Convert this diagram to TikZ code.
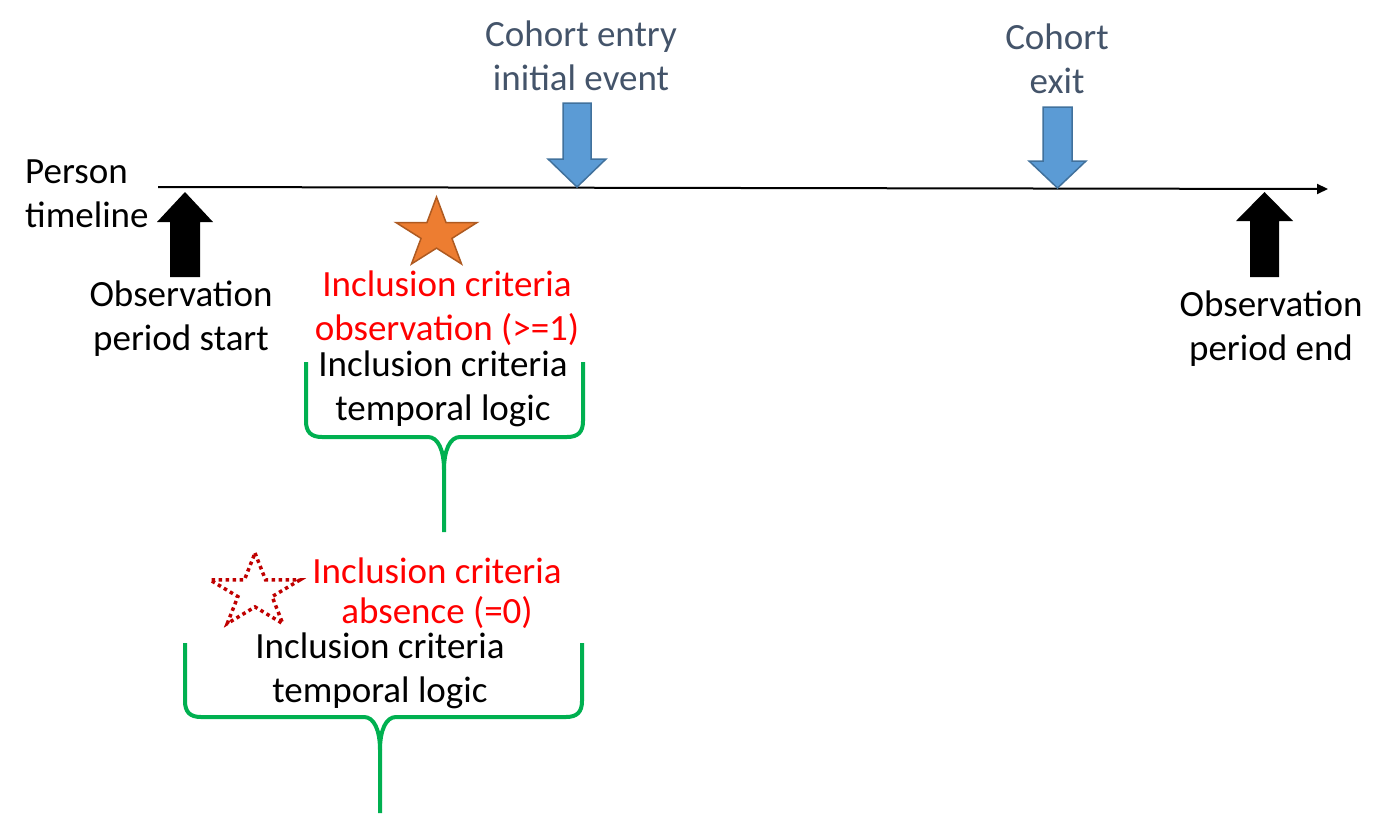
\documentclass[tikz,border=0pt]{standalone}
\usepackage{fontspec}
\setmainfont{Carlito}
\usetikzlibrary{arrows.meta}
\definecolor{cohort}{HTML}{44546A}
\definecolor{bluef}{HTML}{5B9BD5}
\definecolor{blued}{HTML}{41719C}
\definecolor{orangef}{HTML}{ED7D31}
\definecolor{oranged}{HTML}{AE5A21}
\definecolor{dred}{HTML}{C00000}
\definecolor{bgreen}{HTML}{00B050}
\begin{document}
\begin{tikzpicture}[x=1pt,y=-1pt,
  lbl/.style={font=\fontsize{37}{44}\selectfont, inner sep=0pt, align=center, anchor=base},
  bluearrow/.style={fill=bluef, draw=blued, line width=1.5pt, line join=miter},
  blackarrow/.style={fill=black, draw=none},
  brace/.style={draw=bgreen, line width=4pt, line join=round},
  timeline/.style={line width=2pt, -{Triangle[length=11pt,width=10pt]}},
  starpic/.pic={\path[pic actions] (270:1) -- (306:0.382) -- (342:1) -- (18:0.382) -- (54:1) -- (90:0.382) -- (126:1) -- (162:0.382) -- (198:1) -- (234:0.382) -- cycle;}
]
\useasboundingbox (0,0) rectangle (1396,814);
% timeline
\coordinate (tl0) at (158,187);
\coordinate (tl1) at (1328,189);
\draw[timeline] (tl0) -- (tl1);
% blue down arrows
\draw[bluearrow] (563,103) -- (591,103) -- (591,159) -- (606,159) -- (577,187) -- (548,159) -- (563,159) -- cycle;
\draw[bluearrow] (1043,107) -- (1072,107) -- (1072,161) -- (1086,161) -- (1057.5,188) -- (1029,161) -- (1043,161) -- cycle;
% black up arrows
\path[blackarrow] (170,277) -- (170,222) -- (157,222) -- (185,192) -- (213,222) -- (200,222) -- (200,277) -- cycle;
\path[blackarrow] (1250,277) -- (1250,221) -- (1236,221) -- (1264.5,192) -- (1293,221) -- (1279,221) -- (1279,277) -- cycle;
% labels (base anchor = baseline of the last line)
\node[lbl, text=cohort] (entry) at (581,90) {Cohort entry\\initial event};
\node[lbl, text=cohort] (exit) at (1057,93) {Cohort\\exit};
\node[lbl, anchor=base west, align=left] (person) at (25,227) {Person\\timeline};
\node[lbl] (obsstart) at (181,350) {Observation\\period start};
\node[lbl] (obsend) at (1271,360) {Observation\\period end};
\node[lbl, text=red] (incobs) at (447,340) {Inclusion criteria\\observation (>=1)};
\node[lbl] (temp1) at (443,420) {Inclusion criteria\\temporal logic};
\node[lbl, text=red] (incabs) at (437,623) {Inclusion criteria\\[-4pt]absence (=0)};
\node[lbl] (temp2) at (380,702) {Inclusion criteria\\temporal logic};
% stars
\pic[fill=orangef, draw=oranged, line width=1.5pt, scale=37, xscale=1.15] (star1) at (436.5,234) {starpic};
\pic[draw=dred, line width=3.5pt, dash pattern=on 3.5pt off 3.5pt, scale=39, xscale=1.21] (star2) at (255,592) {starpic};
% braces
\draw[brace] (306,362) -- (306,421) .. controls (306,432) and (311,437) .. (322,437) -- (428,437) .. controls (438,437) and (444,450) .. (444,470) -- (444,532);
\draw[brace] (583,362) -- (583,421) .. controls (583,432) and (578,437) .. (567,437) -- (460,437) .. controls (450,437) and (444,450) .. (444,470);
\draw[brace] (185,643) -- (185,701) .. controls (185,712) and (190,717) .. (201,717) -- (364,717) .. controls (374,717) and (380,730) .. (380,750) -- (380,813);
\draw[brace] (582,643) -- (582,701) .. controls (582,712) and (577,717) .. (566,717) -- (396,717) .. controls (386,717) and (380,730) .. (380,750);
\end{tikzpicture}
\end{document}
